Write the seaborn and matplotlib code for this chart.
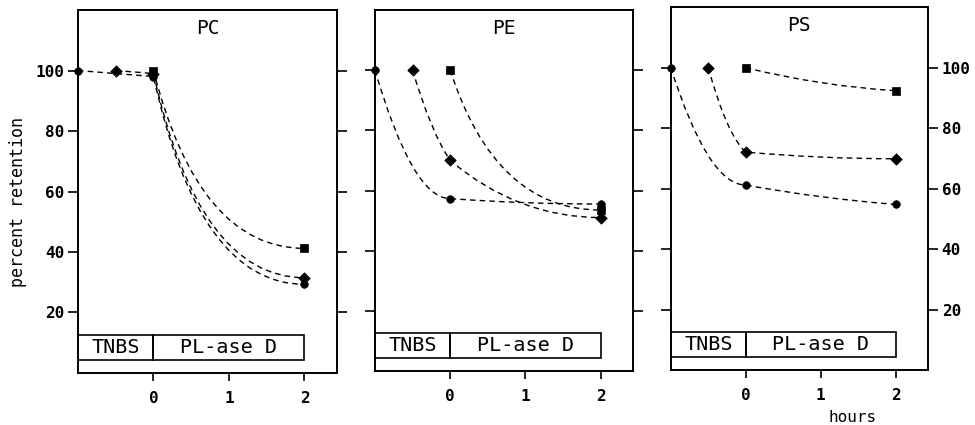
import matplotlib
matplotlib.use("Agg")
import matplotlib.pyplot as plt
import seaborn as sns
import numpy as np
import pandas as pd
from matplotlib.path import Path
from matplotlib.patches import PathPatch, Rectangle

# data: hours vs percent retention
panels = ["PC", "PE", "PS"]

# series started TNBS at -1 h (circle), -0.5 h (diamond), 0 h (square)
circle_x = [-1, 0, 2]
diamond_x = [-0.5, 0, 2]
square_x = [0, 2]

pc_circle = [100, 98, 29.3]
pc_diamond = [100, 99, 31.5]
pc_square = [100, 41.2]

pe_circle = [100, 57.3, 55.5]
pe_diamond = [100, 70, 51]
pe_square = [100, 53.5]

ps_circle = [100, 61.2, 54.8]
ps_diamond = [100, 72.1, 69.9]
ps_square = [100, 92.4]

values = {
    "PC": [pc_circle, pc_diamond, pc_square],
    "PE": [pe_circle, pe_diamond, pe_square],
    "PS": [ps_circle, ps_diamond, ps_square],
}
xs = [circle_x, diamond_x, square_x]
markers = ["o", "D", "s"]
sizes = [30, 34, 30]

# how the hand drawn curves bend, per segment: (x share, y share) of the control point
bends = {
    "PC": [[(0.5, 0.5), (0.3, 1)], [(0.5, 0.5), (0.3, 1)], [(0.3, 1)]],
    "PE": [[(0.5, 1), (0.5, 1)], [(0.5, 0.7), (0.45, 1)], [(0.3, 1)]],
    "PS": [[(0.5, 1), (0.5, 0.7)], [(0.5, 0.8), (0.5, 1)], [(0.5, 0.8)]],
}

yticks = [20, 40, 60, 80, 100]
xticks = [0, 1, 2]

sns.set_theme(style="ticks")
plt.rcParams['font.family'] = ['DejaVu Sans Mono', 'DejaVu Sans']
plt.rcParams['axes.linewidth'] = 1.4
for key in ['text.color', 'axes.labelcolor', 'xtick.color', 'ytick.color', 'axes.edgecolor']:
    plt.rcParams[key] = 'black'


def curved(ax, x, y, bend):
    # quadratic bezier between the measured points
    verts = [(x[0], y[0])]
    codes = [Path.MOVETO]
    for i in range(len(x) - 1):
        x0, y0, x1, y1 = x[i], y[i], x[i + 1], y[i + 1]
        a, b = bend[i]
        verts += [(x0 + a * (x1 - x0), y0 + b * (y1 - y0)), (x1, y1)]
        codes += [Path.CURVE3, Path.CURVE3]
    ax.add_patch(PathPatch(Path(verts, codes), fill=False, color="black",
                           lw=1.0, linestyle=(0, (4, 3)), zorder=2))


fig = plt.figure(figsize=(9.75, 4.25), dpi=100)
rects = [[0.080, 0.1224, 0.2656, 0.854],
         [0.3846, 0.127, 0.2646, 0.8495],
         [0.688, 0.129, 0.2636, 0.854]]

for k, name in enumerate(panels):
    ax = fig.add_axes(rects[k])
    for sx, sy, m, s, bd in zip(xs, values[name], markers, sizes, bends[name]):
        curved(ax, sx, sy, bd)
        df = pd.DataFrame({"hours": sx, "retention": sy})
        sns.scatterplot(data=df, x="hours", y="retention", marker=m, s=s,
                        color="black", edgecolor="black", linewidth=0.5,
                        ax=ax, zorder=3, clip_on=False)

    # treatment bar at the bottom
    ax.add_patch(Rectangle((-1, 4.3), 1, 8.2, fill=False, lw=1.2, color="black"))
    ax.add_patch(Rectangle((0, 4.3), 2, 8.2, fill=False, lw=1.2, color="black"))
    ax.text(-0.5, 8.4, "TNBS", ha="center", va="center", fontsize=14.5)
    ax.text(1, 8.4, "PL-ase D", ha="center", va="center", fontsize=14.5)

    ax.text(0.5, 0.95, name, transform=ax.transAxes, ha="center",
            va="center", fontsize=14)

    ax.set_xlim(-1, 2.43)
    ax.set_ylim(0, 120)
    ax.set_xticks(xticks)
    ax.set_xticklabels([str(t) for t in xticks], fontsize=11.5, fontweight="bold")
    ax.set_yticks(yticks)
    ax.set_yticklabels([str(t) for t in yticks], fontsize=11.5, fontweight="bold")
    ax.tick_params(axis="x", direction="out", length=6, width=1.2, pad=7)
    ax.tick_params(axis="y", direction="out", length=7, width=1.2, pad=3,
                   left=True, right=True, labelleft=(k == 0),
                   labelright=(k == 2))
    ax.set_xlabel("")
    ax.set_ylabel("")
    for sp in ax.spines.values():
        sp.set_visible(True)
        sp.set_color("black")

    if k == 0:
        ax.set_ylabel("percent retention", fontsize=12)
        ax.yaxis.set_label_coords(-0.197, 0.471)
    if k == 2:
        ax.text(0.708, -0.13, "hours", transform=ax.transAxes, ha="center",
                va="center", fontsize=11.5)

fig.savefig("out.png", dpi=100)
